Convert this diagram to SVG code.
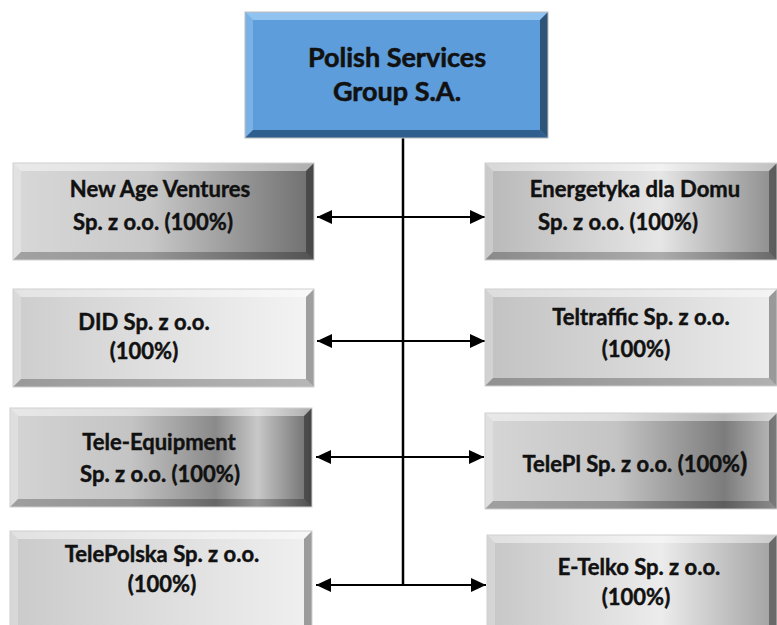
<svg xmlns="http://www.w3.org/2000/svg" width="777" height="625" viewBox="0 0 777 625">
<style>
text{font-family:Lato,"Open Sans","Liberation Sans",sans-serif;font-weight:bold;fill:#111;stroke:#111;stroke-width:0.45;text-anchor:middle}
.t{font-size:22px}
.big{font-size:27px;stroke-width:0.55}
.conn{stroke:#000;stroke-width:2;fill:none}
.hi{fill:#fff;opacity:.45}
.lo{fill:#fff;opacity:.25}
.sh{fill:#000;opacity:.25}
.dk{fill:#000;opacity:.35}
.edge{fill:none;stroke:#cfcfcf;stroke-width:1}
</style>
<defs>
<marker id="ah" markerUnits="userSpaceOnUse" markerWidth="16" markerHeight="14" refX="15" refY="7" orient="auto-start-reverse">
<path d="M0,0 L15,7 L0,14 Z" fill="#000"/>
</marker>
<linearGradient id="g1" x1="0" x2="1" y1="0" y2="0"><stop offset="0" stop-color="#d8d8d8"/><stop offset="0.45" stop-color="#c9c9c9"/><stop offset="1" stop-color="#6e6e6e"/></linearGradient>
<linearGradient id="g2" x1="0" x2="1" y1="0" y2="0"><stop offset="0" stop-color="#b8b8b8"/><stop offset="0.6" stop-color="#e6e6e6"/><stop offset="1" stop-color="#8c8c8c"/></linearGradient>
<linearGradient id="g3" x1="0" x2="1" y1="0" y2="0"><stop offset="0" stop-color="#cdcdcd"/><stop offset="1" stop-color="#f4f4f4"/></linearGradient>
<linearGradient id="g4" x1="0" x2="1" y1="0" y2="0"><stop offset="0" stop-color="#c2c2c2"/><stop offset="1" stop-color="#ececec"/></linearGradient>
<linearGradient id="g5" x1="0" x2="1" y1="0" y2="0"><stop offset="0" stop-color="#d4d4d4"/><stop offset="0.4" stop-color="#c4c4c4"/><stop offset="0.68" stop-color="#8a8a8a"/><stop offset="0.82" stop-color="#c8c8c8"/><stop offset="1" stop-color="#6a6a6a"/></linearGradient>
<linearGradient id="g6" x1="0" x2="1" y1="0" y2="0"><stop offset="0" stop-color="#d6d6d6"/><stop offset="0.45" stop-color="#c4c4c4"/><stop offset="0.82" stop-color="#7c7c7c"/><stop offset="1" stop-color="#bcbcbc"/></linearGradient>
<linearGradient id="g7" x1="0" x2="1" y1="0" y2="0"><stop offset="0" stop-color="#cacaca"/><stop offset="1" stop-color="#f0f0f0"/></linearGradient>
<linearGradient id="g8" x1="0" x2="1" y1="0" y2="0"><stop offset="0" stop-color="#c6c6c6"/><stop offset="0.6" stop-color="#ececec"/><stop offset="1" stop-color="#a0a0a0"/></linearGradient>
</defs>

<g id="connectors">
<line class="conn" x1="403" y1="138" x2="403" y2="584" style="stroke-width:2.5"/>
<line class="conn" x1="317" y1="217" x2="485" y2="217" marker-start="url(#ah)" marker-end="url(#ah)"/>
<line class="conn" x1="317" y1="341" x2="485" y2="341" marker-start="url(#ah)" marker-end="url(#ah)"/>
<line class="conn" x1="316" y1="457" x2="484" y2="457" marker-start="url(#ah)" marker-end="url(#ah)"/>
<line class="conn" x1="316" y1="585" x2="486" y2="585" marker-start="url(#ah)" marker-end="url(#ah)"/>
</g>

<g id="parent">
<rect x="245" y="12" width="303" height="126" fill="#5d9ddb"/>
<polygon points="245,12 548,12 540,20 253,20" fill="#9fcdf5" opacity=".8"/>
<polygon points="245,12 253,20 253,130 245,138" fill="#8dbfec" opacity=".6"/>
<polygon points="245,138 253,130 540,130 548,138" fill="#2f5f8e"/>
<polygon points="548,12 548,138 540,130 540,20" fill="#2e5478"/>
<rect x="245" y="12" width="303" height="126" fill="none" stroke="#bdbdbd" stroke-width="1"/>
<text class="big" x="397" y="67">Polish Services</text>
<text class="big" x="397" y="101">Group S.A.</text>
</g>

<g id="n1">
<rect x="13" y="163" width="301" height="97" fill="url(#g1)"/>
<polygon class="hi" points="13,163 314,163 306,171 21,171"/>
<polygon class="lo" points="13,163 21,171 21,252 13,260"/>
<polygon class="sh" points="13,260 21,252 306,252 314,260"/>
<polygon class="dk" points="314,163 314,260 306,252 306,171"/>
<rect class="edge" x="13" y="163" width="301" height="97"/>
<text class="t" x="160" y="197">New Age Ventures</text>
<text class="t" x="153" y="230">Sp. z o.o. (100%)</text>
</g>

<g id="n2">
<rect x="485" y="163" width="292" height="97" fill="url(#g2)"/>
<polygon class="hi" points="485,163 777,163 769,171 493,171"/>
<polygon class="lo" points="485,163 493,171 493,252 485,260"/>
<polygon class="sh" points="485,260 493,252 769,252 777,260"/>
<polygon class="dk" points="777,163 777,260 769,252 769,171"/>
<rect class="edge" x="485" y="163" width="292" height="97"/>
<text class="t" x="635" y="197">Energetyka dla Domu</text>
<text class="t" x="618" y="230">Sp. z o.o. (100%)</text>
</g>

<g id="n3">
<rect x="13" y="289" width="301" height="98" fill="url(#g3)"/>
<polygon class="hi" points="13,289 314,289 306,297 21,297"/>
<polygon class="lo" points="13,289 21,297 21,379 13,387"/>
<polygon class="sh" points="13,387 21,379 306,379 314,387"/>
<polygon class="dk" points="314,289 314,387 306,379 306,297"/>
<rect class="edge" x="13" y="289" width="301" height="98"/>
<text class="t" x="144" y="330">DID Sp. z o.o.</text>
<text class="t" x="144" y="359">(100%)</text>
</g>

<g id="n4">
<rect x="485" y="289" width="292" height="97" fill="url(#g4)"/>
<polygon class="hi" points="485,289 777,289 769,297 493,297"/>
<polygon class="lo" points="485,289 493,297 493,378 485,386"/>
<polygon class="sh" points="485,386 493,378 769,378 777,386"/>
<polygon class="dk" points="777,289 777,386 769,378 769,297"/>
<rect class="edge" x="485" y="289" width="292" height="97"/>
<text class="t" x="641" y="325">Teltraffic Sp. z o.o.</text>
<text class="t" x="636" y="357">(100%)</text>
</g>

<g id="n5">
<rect x="10" y="408" width="302" height="99" fill="url(#g5)"/>
<polygon class="hi" points="10,408 312,408 304,416 18,416"/>
<polygon class="lo" points="10,408 18,416 18,499 10,507"/>
<polygon class="sh" points="10,507 18,499 304,499 312,507"/>
<polygon class="dk" points="312,408 312,507 304,499 304,416"/>
<rect class="edge" x="10" y="408" width="302" height="99"/>
<text class="t" x="159" y="450">Tele-Equipment</text>
<text class="t" x="160" y="482">Sp. z o.o. (100%)</text>
</g>

<g id="n6">
<rect x="485" y="413" width="292" height="96" fill="url(#g6)"/>
<polygon class="hi" points="485,413 777,413 769,421 493,421"/>
<polygon class="lo" points="485,413 493,421 493,501 485,509"/>
<polygon class="sh" points="485,509 493,501 769,501 777,509"/>
<polygon class="dk" points="777,413 777,509 769,501 769,421"/>
<rect class="edge" x="485" y="413" width="292" height="96"/>
<text class="t" x="635" y="472">TelePl Sp. z o.o. (100%<tspan style="font-size:27px">)</tspan></text>
</g>

<g id="n7">
<rect x="10" y="531" width="302" height="98" fill="url(#g7)"/>
<polygon class="hi" points="10,531 312,531 304,539 18,539"/>
<polygon class="lo" points="10,531 18,539 18,629 10,629"/>
<polygon class="dk" points="312,531 312,629 304,629 304,539"/>
<rect class="edge" x="10" y="531" width="302" height="98"/>
<text class="t" x="162" y="562">TelePolska Sp. z o.o.</text>
<text class="t" x="162" y="592">(100%)</text>
</g>

<g id="n8">
<rect x="487" y="535" width="290" height="94" fill="url(#g8)"/>
<polygon class="hi" points="487,535 777,535 769,543 495,543"/>
<polygon class="lo" points="487,535 495,543 495,629 487,629"/>
<polygon class="dk" points="777,535 777,629 769,629 769,543"/>
<rect class="edge" x="487" y="535" width="290" height="94"/>
<text class="t" x="639" y="575">E-Telko Sp. z o.o.</text>
<text class="t" x="636" y="605">(100%)</text>
</g>
</svg>
